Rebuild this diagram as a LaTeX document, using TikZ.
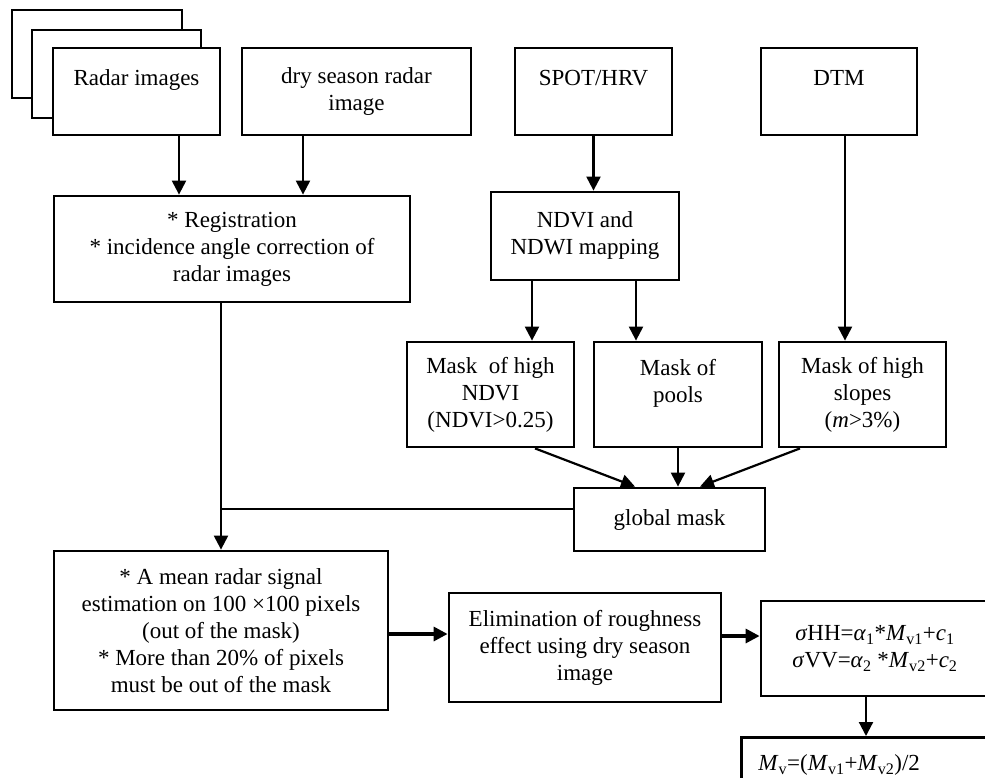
\documentclass[tikz,border=0pt]{standalone}
\usepackage{fontspec}
\setmainfont{Liberation Serif}
\usetikzlibrary{arrows.meta}
\newcommand\blkfont{\fontsize{23}{27}\selectfont}

\begin{document}
\begin{tikzpicture}[
                x=1pt, y=-1pt,
                blk/.style={draw, line width=2.8pt, fill=white,
                            inner sep=0pt, align=center, font=\blkfont},
                arr/.style={-{Triangle[length=14pt,width=14pt]}, line width=2.2pt},
                thickarr/.style={arr, line width=3.2pt}]
                \useasboundingbox (0,0) rectangle (985,778);
                \clip (0,0) rectangle (985,778);
                % inputs
                \node[blk, minimum width=170pt, minimum height=88pt] (stackc) at (97,54) {};
                \node[blk, minimum width=169pt, minimum height=88pt] (stackb) at (116.5,74) {};
                \node[blk, minimum width=167pt, minimum height=87pt] (radar) at (136.5,91.5) {Radar images\\~};
                \node[blk, minimum width=229pt, minimum height=87pt] (dry) at (356.5,91.5) {dry season radar\\image};
                \node[blk, minimum width=157pt, minimum height=87pt] (spot) at (593.5,91.5) {SPOT/HRV\\~};
                \node[blk, minimum width=156pt, minimum height=87pt] (dtm) at (839,91.5) {DTM\\~};
                % processing
                \node[blk, minimum width=356pt, minimum height=106pt] (reg) at (232,249)
                    {* Registration\\* incidence angle correction of\\radar images};
                \node[blk, minimum width=188pt, minimum height=88pt] (ndvi) at (585,236) {NDVI and\\NDWI mapping};
                \node[blk, minimum width=167pt, minimum height=105pt] (maska) at (490.5,394.5)
                    {Mask~ of high\\NDVI\\(NDVI>0.25)};
                \node[blk, minimum width=168pt, minimum height=105pt] (maskb) at (678,394.5) {Mask of\\pools\\~};
                \node[blk, minimum width=167pt, minimum height=105pt] (maskc) at (862.5,394.5)
                    {Mask of high\\slopes\\(\textit{m}>3\%)};
                \node[blk, minimum width=191pt, minimum height=63pt] (glob) at (669.5,519.5) {global mask};
                \node[blk, minimum width=334pt, minimum height=159pt] (mean) at (221,630.5)
                    {* A mean radar signal\\estimation on 100 ×100 pixels\\(out of the mask)\\* More than 20\% of pixels\\must be out of the mask};
                \node[blk, minimum width=272pt, minimum height=109pt] (elim) at (585,647.5)
                    {Elimination of roughness\\effect using dry season\\image};
                \node[blk, minimum width=228pt, minimum height=95pt] (sig) at (875,648.5)
                    {\textit{σ}HH=\textit{α}\textsubscript{1}*\textit{M}\textsubscript{v1}+\textit{c}\textsubscript{1}\\
                     \textit{σ}VV=\textit{α}\textsubscript{2} *\textit{M}\textsubscript{v2}+\textit{c}\textsubscript{2}};
                \node[blk, anchor=north west, align=left, text width=228pt, inner xsep=17pt,
                      minimum height=56pt] (mv) at (740,736)
                    {\textit{M}\textsubscript{v}=(\textit{M}\textsubscript{v1}+\textit{M}\textsubscript{v2})/2};
                % connectors
                \draw[arr] ([xshift=42.5pt]radar.south) -- ([xshift=42.5pt]radar.south |- reg.north);
                \draw[arr] ([xshift=-53.5pt]dry.south) -- ([xshift=-53.5pt]dry.south |- reg.north);
                \draw[arr] (spot.south) -- (spot.south |- ndvi.north);
                \draw[arr] ([xshift=-53pt]ndvi.south) -- ([xshift=-53pt]ndvi.south |- maska.north);
                \draw[arr] ([xshift=51pt]ndvi.south) -- ([xshift=51pt]ndvi.south |- maskb.north);
                \draw[arr] ([xshift=6pt]dtm.south) -- ([xshift=6pt]dtm.south |- maskc.north);
                \draw[arr] ([xshift=44.5pt]maska.south) -- ([xshift=-34.5pt]glob.north);
                \draw[arr] (maskb.south) -- (maskb.south |- glob.north);
                \draw[arr] ([xshift=-62.5pt]maskc.south) -- ([xshift=30.5pt]glob.north);
                \draw[arr] (reg.south -| mean.north) -- (mean.north);
                \draw[line width=2.2pt] ([yshift=10.5pt]glob.west) -- ([yshift=10.5pt]glob.west -| mean.north);
                \draw[thickarr] ([yshift=-3.5pt]mean.east) -- ([yshift=-3.5pt]mean.east -| elim.west);
                \draw[thickarr] ([yshift=11.5pt]elim.east) -- ([yshift=11.5pt]elim.east -| sig.west);
                \draw[arr] ([xshift=-9pt]sig.south) -- ([xshift=-9pt]sig.south |- mv.north);
            \end{tikzpicture}
\end{document}
